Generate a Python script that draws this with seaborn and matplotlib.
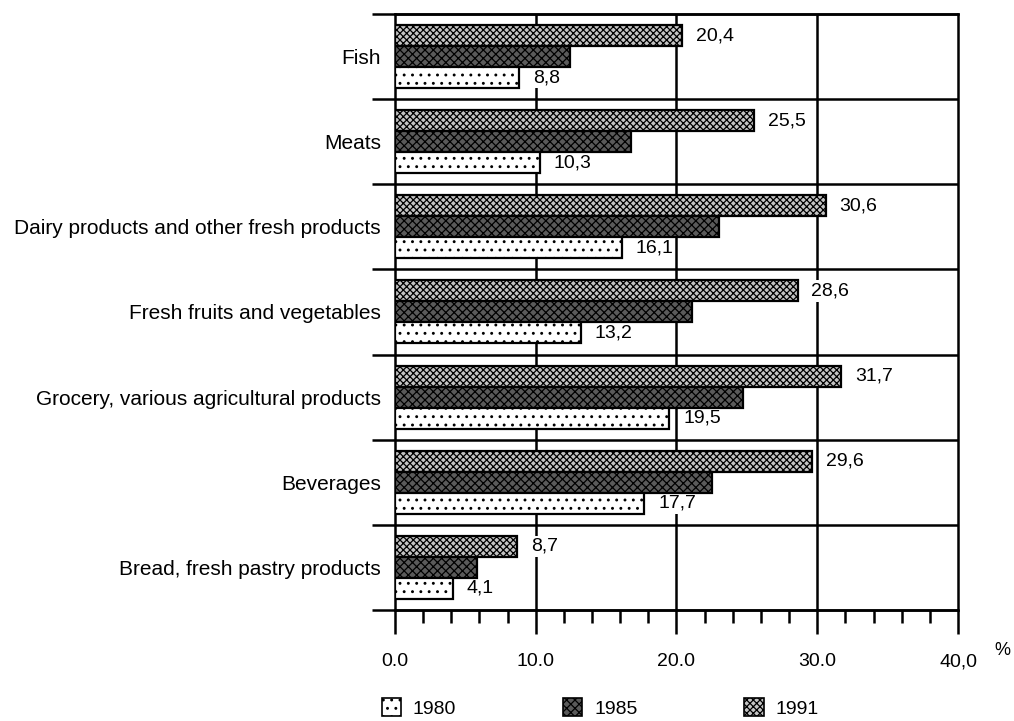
import numpy as np
import pandas as pd
import matplotlib
matplotlib.use("Agg")
import matplotlib.pyplot as plt
import matplotlib.transforms as mtransforms
from matplotlib.patches import Patch
from matplotlib.ticker import MultipleLocator
import seaborn as sns

# Data (% share)
categories = [
    "Fish",
    "Meats",
    "Dairy products and other fresh products",
    "Fresh fruits and vegetables",
    "Grocery, various agricultural products",
    "Beverages",
    "Bread, fresh pastry products",
]
share_1980 = [8.8, 10.3, 16.1, 13.2, 19.5, 17.7, 4.1]
share_1985 = [12.4, 16.8, 23.0, 21.1, 24.7, 22.5, 5.8]
share_1991 = [20.4, 25.5, 30.6, 28.6, 31.7, 29.6, 8.7]
years = ["1980", "1985", "1991"]
x_ticks = [0, 10, 20, 30, 40]
x_tick_labels = ["0.0", "10.0", "20.0", "30.0", "40,0"]


def main():
    df = pd.DataFrame({
        "category": categories * 3,
        "year": ["1980"] * 7 + ["1985"] * 7 + ["1991"] * 7,
        "share": share_1980 + share_1985 + share_1991,
    })

    sns.set_style("white")
    plt.rcParams["font.family"] = ["Liberation Sans", "DejaVu Sans"]
    plt.rcParams["hatch.linewidth"] = 0.9
    for key in ["text.color", "axes.labelcolor", "xtick.color", "ytick.color"]:
        plt.rcParams[key] = "black"

    fig = plt.figure(figsize=(10.14, 7.21), dpi=100)
    ax = fig.add_axes([0.3895, 0.154, 0.5553, 0.8266])

    hue_order = ["1991", "1985", "1980"]
    sns.barplot(data=df, y="category", x="share", hue="year", hue_order=hue_order,
                order=categories, orient="h", width=0.74, ax=ax,
                edgecolor="black", linewidth=1.6, legend=False, zorder=3)

    # black & white fill patterns
    styles = {
        "1991": dict(facecolor="#c4c4c4", hatch="xxxxx"),
        "1985": dict(facecolor="#5a5a5a", hatch="xxxx"),
        "1980": dict(facecolor="white", hatch=".."),
    }
    for year, cont in zip(hue_order, ax.containers):
        for bar in cont:
            bar.set_facecolor(styles[year]["facecolor"])
            bar.set_hatch(styles[year]["hatch"])
        if year != "1985":
            texts = ax.bar_label(cont, labels=[f"{v:.1f}".replace(".", ",") for v in cont.datavalues],
                                 padding=10, fontsize=14)
            for t in texts:
                # white box breaks the grid lines behind the numbers
                t.set_bbox(dict(facecolor="white", edgecolor="none", pad=1.5))
                t.set_zorder(2.5)

    ax.set_xlim(0, 40)
    ax.set_ylim(6.5, -0.5)
    ax.set_xlabel("")
    ax.set_ylabel("")

    # grid lines and group separators
    for x in [10, 20, 30]:
        ax.axvline(x, color="black", lw=1.8, zorder=1)
    trans = mtransforms.blended_transform_factory(ax.transAxes, ax.transData)
    ax.hlines(np.arange(-0.5, 7, 1), -0.041, 1, transform=trans, color="black",
              lw=1.8, clip_on=False, zorder=2)

    for side in ["left", "right", "top", "bottom"]:
        ax.spines[side].set_visible(True)
        ax.spines[side].set_color("black")
        ax.spines[side].set_linewidth(1.8)

    ax.set_xticks(x_ticks)
    ax.set_xticklabels(x_tick_labels, fontsize=14)
    ax.xaxis.set_minor_locator(MultipleLocator(2))
    ax.tick_params(axis="x", which="major", direction="out", length=17, width=1.8,
                   pad=14, bottom=True, color="black")
    ax.tick_params(axis="x", which="minor", direction="out", length=9, width=1.8,
                   bottom=True, color="black")
    ax.tick_params(axis="y", length=0, pad=10, labelsize=15)

    fig.text(0.989, 0.098, "%", fontsize=13, ha="center", va="center")

    handles = [Patch(edgecolor="black", linewidth=1.2, **styles[y]) for y in years]
    fig.legend(handles, years, loc="center left", bbox_to_anchor=(0.359, 0.018),
               ncol=3, frameon=False, fontsize=14, handlelength=1.0, handleheight=1.0,
               handletextpad=0.6, columnspacing=5.5)

    fig.savefig("out.png", dpi=100, facecolor="white")


if __name__ == "__main__":
    main()
